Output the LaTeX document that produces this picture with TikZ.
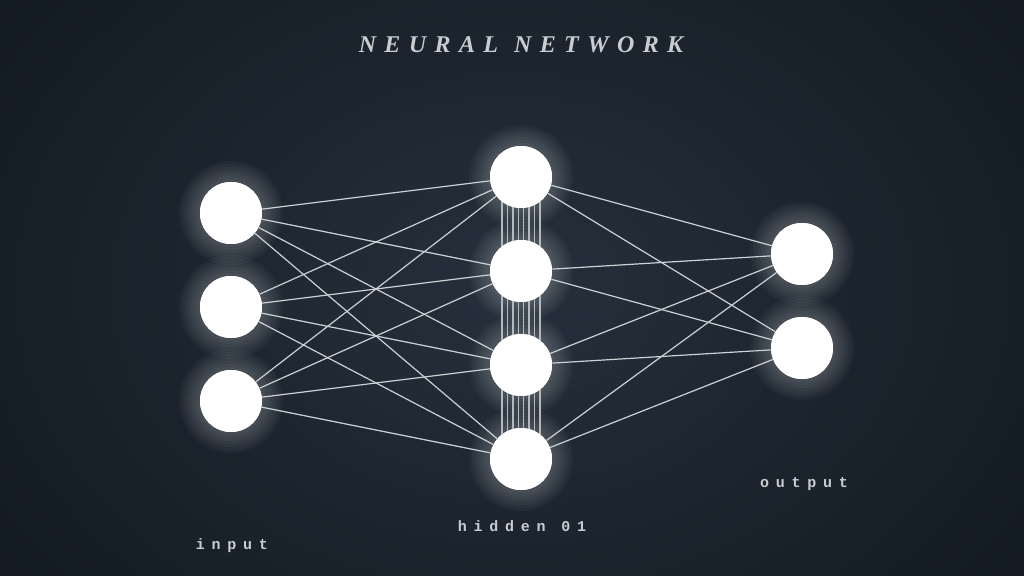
\documentclass[tikz,border=0pt]{standalone}
\usepackage{fontspec}
\setmainfont{Liberation Serif}
\newfontfamily\titlefont[LetterSpace=35]{Liberation Serif}
\newfontfamily\lblfont[LetterSpace=45]{Liberation Mono}
\definecolor{bgmid}{HTML}{26303C}
\definecolor{bgedge}{HTML}{10171F}
\definecolor{linec}{HTML}{CDD1D5}
\definecolor{textc}{HTML}{C9CDD1}
\begin{document}
\begin{tikzpicture}[x=0.5pt,y=-0.5pt,
  neuron/.style={circle,fill=white,minimum size=31pt,inner sep=0pt},
  wire/.style={draw=linec,line width=0.6pt},
  vwire/.style={draw=linec!85!bgmid,line width=0.7pt},
  lbl/.style={text=textc,font=\lblfont\bfseries\fontsize{7.5pt}{9pt}\selectfont,anchor=base},
  ttl/.style={text=textc,font=\titlefont\bfseries\itshape\fontsize{12pt}{14pt}\selectfont,anchor=base}]
\useasboundingbox (0,0) rectangle (1024,576);
\shade[inner color=bgmid,outer color=bgedge] (-200,-250) rectangle (1224,826);
% soft glow
\foreach \p in {(231,213),(231,307),(231,401),(521,177),(521,271),(521,365),(521,459),(802,254),(802,348)}{
  \foreach \r in {52,49,...,32}{\fill[white,opacity=0.03] \p circle (\r);}
}
\node[neuron] (i1) at (231,213) {};
\node[neuron] (i2) at (231,307) {};
\node[neuron] (i3) at (231,401) {};
\node[neuron] (h1) at (521,177) {};
\node[neuron] (h2) at (521,271) {};
\node[neuron] (h3) at (521,365) {};
\node[neuron] (h4) at (521,459) {};
\node[neuron] (o1) at (802,254) {};
\node[neuron] (o2) at (802,348) {};
\foreach \a in {i1,i2,i3}{\foreach \b in {h1,h2,h3,h4}{\draw[wire] (\a) -- (\b);}}
\foreach \a in {h1,h2,h3,h4}{\foreach \b in {o1,o2}{\draw[wire] (\a) -- (\b);}}
\foreach \a/\b in {h1/h2,h2/h3,h3/h4}{
  \foreach \dx in {-19,-13.5,-8,-2.5,2.5,8,13.5,19}{
    \draw[vwire] ([xshift=\dx*0.5pt]\a.center) -- ([xshift=\dx*0.5pt]\b.center);}}
% nodes on top of wires
\foreach \p in {(231,213),(231,307),(231,401),(521,177),(521,271),(521,365),(521,459),(802,254),(802,348)}{
  \fill[white] \p circle (31);
}
\node[ttl] (title) at (521,53) {NEURAL\hspace{8pt}NETWORK};
\node[lbl] (lin) at (232,550) {input};
\node[lbl] (lhid) at (522,532) {hidden 01};
\node[lbl] (lout) at (804,488) {output};
\end{tikzpicture}
\end{document}
